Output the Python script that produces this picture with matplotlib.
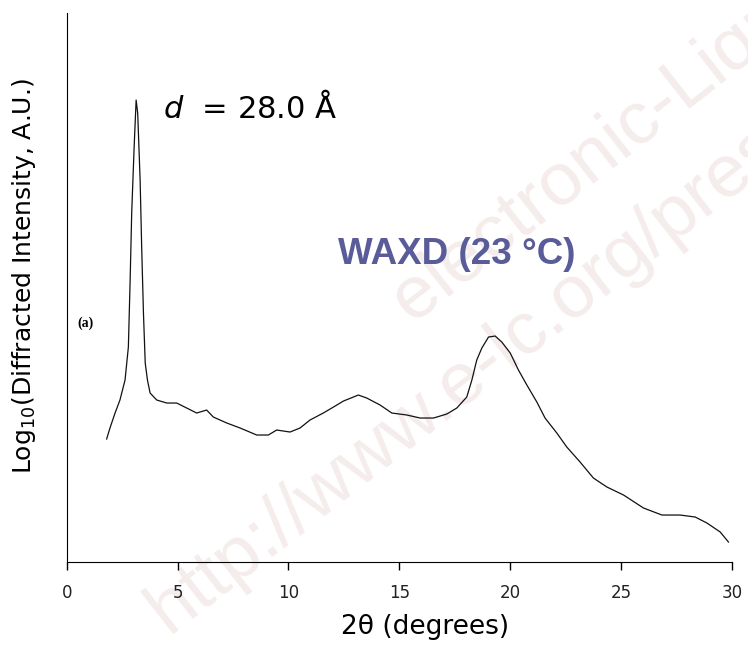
import matplotlib
matplotlib.use("Agg")
import matplotlib.pyplot as plt

# WAXD scan at 23 C: 2-theta (deg) vs log10 intensity (arbitrary units)
two_theta = [1.80, 1.95, 2.18, 2.40, 2.63, 2.78, 2.86, 2.93, 3.04, 3.13,
             3.20, 3.31, 3.38, 3.46, 3.54, 3.64, 3.76, 4.06, 4.51, 4.96,
             5.41, 5.86, 6.31, 6.61, 7.22, 7.82, 8.57, 9.09, 9.47, 10.07,
             10.52, 10.97, 11.57, 12.03, 12.48, 13.15, 13.53, 14.13, 14.66, 15.34,
             15.94, 16.54, 17.14, 17.59, 18.04, 18.27, 18.49, 18.72, 19.02, 19.32,
             19.62, 20.00, 20.37, 20.75, 21.20, 21.57, 22.10, 22.55, 23.15, 23.75,
             24.36, 25.11, 26.01, 26.84, 27.66, 28.34, 28.87, 29.47, 29.84]
log_intensity = [1.23, 1.34, 1.49, 1.62, 1.82, 2.15, 2.82, 3.49, 4.15, 4.62,
                 4.49, 3.82, 3.15, 2.49, 1.99, 1.82, 1.69, 1.62, 1.59, 1.59,
                 1.54, 1.49, 1.52, 1.45, 1.39, 1.34, 1.27, 1.27, 1.32, 1.30,
                 1.34, 1.42, 1.49, 1.55, 1.61, 1.67, 1.64, 1.57, 1.49, 1.47,
                 1.44, 1.44, 1.48, 1.54, 1.65, 1.82, 2.02, 2.14, 2.25, 2.26,
                 2.20, 2.09, 1.92, 1.77, 1.60, 1.44, 1.29, 1.15, 1.00, 0.84,
                 0.75, 0.67, 0.54, 0.47, 0.47, 0.45, 0.39, 0.30, 0.20]
xticks = [0, 5, 10, 15, 20, 25, 30]

plt.rcParams['mathtext.fontset'] = 'dejavusans'

fig = plt.figure(figsize=(7.48, 6.52), dpi=100)
ax = fig.add_axes([0.0892, 0.138, 0.8894, 0.842])

# faint site watermark behind everything
wm = dict(color="#f5ecec", fontsize=54, family="Liberation Sans", rotation=38,
          rotation_mode="anchor", ha="left", va="baseline", zorder=-1)
fig.text(0.552, 0.5015, "electronic-Liquid Crystal", **wm)
fig.text(0.225, 0.028, "http://www.e-lc.org/presentations", **wm)
ax.patch.set_alpha(0)

ax.plot(two_theta, log_intensity, color="#111111", lw=0.9)

ax.set_xlim(0, 30)
ax.set_ylim(0, 5.49)
ax.set_xticks(xticks)
ax.set_yticks([])
for s in ["top", "right"]:
    ax.spines[s].set_visible(False)
ax.tick_params(axis="x", direction="out", length=6, width=1, pad=10,
               labelsize=12, labelcolor="#222222")

ax.set_xlabel("2θ (degrees)", fontsize=19, va="center")
ax.xaxis.set_label_coords(0.5386, -0.118)
ax.set_ylabel("Log$_{10}$(Diffracted Intensity, A.U.)", fontsize=18, va="center")
ax.yaxis.set_label_coords(-0.064, 0.521)

ax.text(8.27, 4.55, "$d$  = 28.0 Å", fontsize=22, ha="center", va="center")
ax.text(17.6, 3.08, "WAXD (23 °C)", fontsize=26.5, fontweight="bold",
        family="Liberation Sans", color="#5a5c9a", ha="center", va="center")
ax.text(0.83, 2.39, "(a)", fontsize=10, fontweight="bold",
        family="Liberation Serif", ha="center", va="center")

fig.savefig("out.png", dpi=100)
